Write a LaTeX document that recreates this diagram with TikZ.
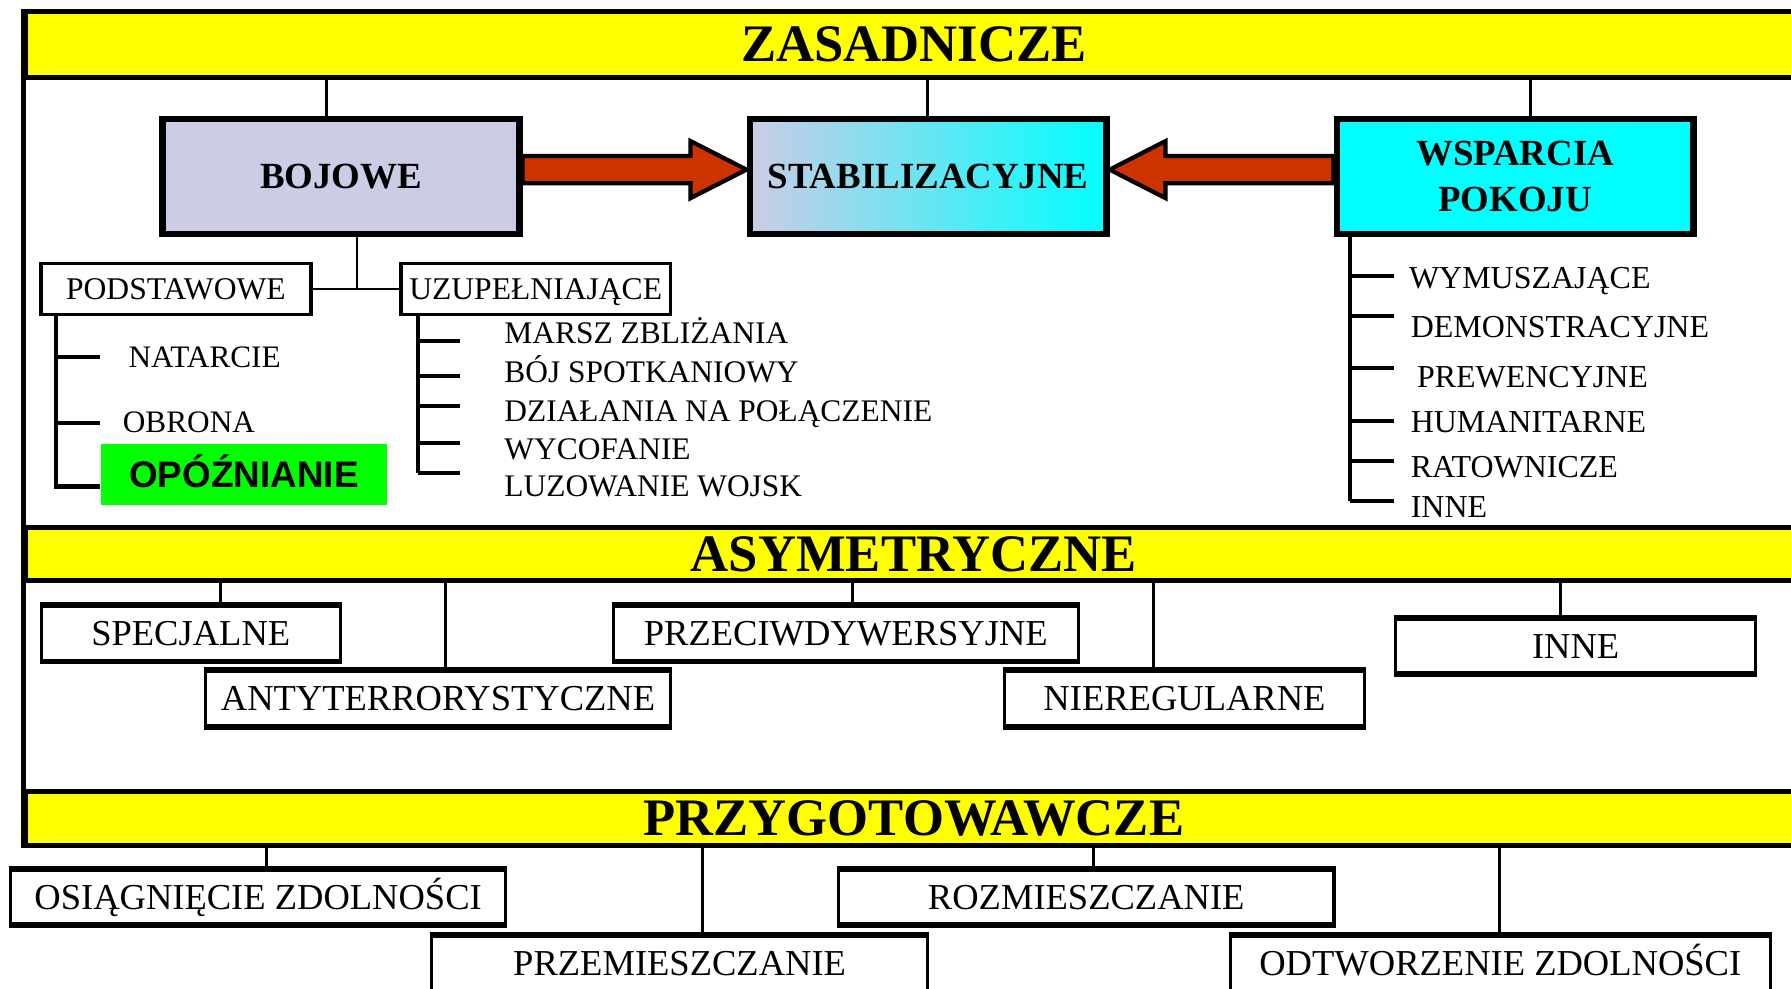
\documentclass[tikz,border=0pt]{standalone}
\usepackage{fontspec}
\setmainfont{Liberation Serif}
\newfontfamily\arialfont{Liberation Sans}
\usetikzlibrary{calc}
\definecolor{baryellow}{RGB}{255,255,0}
\definecolor{lavender}{RGB}{204,204,230}
\definecolor{aqua}{RGB}{0,255,255}
\definecolor{arrowred}{RGB}{204,51,0}
\definecolor{brightgreen}{RGB}{0,255,0}
\tikzset{
  bar/.style={draw=black,fill=baryellow,line width=1.5pt,minimum width=17.77cm,inner sep=0pt,text depth=0pt,font=\fontsize{15}{17}\selectfont\bfseries},
  mainbox/.style={draw=black,line width=1.8pt,minimum width=3.57cm,minimum height=1.15cm,inner sep=2pt,align=center,font=\fontsize{10.5}{13}\selectfont\bfseries},
  subbox/.style={draw=black,fill=white,line width=1pt,minimum width=2.70cm,minimum height=0.51cm,inner sep=0pt,text height=6pt,text depth=0pt,font=\fontsize{9}{11}\selectfont},
  lowbox/.style={draw=black,fill=white,line width=0.9pt,minimum height=0.537cm,inner sep=0pt,text height=7pt,text depth=0pt,font=\fontsize{10.4}{12}\selectfont},
  opoz/.style={fill=brightgreen,minimum width=2.867cm,minimum height=0.605cm,inner sep=0pt,text height=7.6pt,text depth=0pt,font=\arialfont\bfseries\fontsize{10.5}{12}\selectfont},
  item/.style={anchor=west,inner sep=0pt,text height=5.9pt,text depth=0pt,font=\fontsize{8.95}{10}\selectfont},
  witem/.style={item,text height=6pt,font=\fontsize{9.1}{11}\selectfont},
  tree/.style={line width=1.2pt},
  link/.style={line width=0.8pt},
  bigarrow/.style={draw=black,fill=arrowred,line width=1.2pt,line join=miter}
}
\begin{document}
\begin{tikzpicture}[x=0.011422cm,y=-0.011422cm]
  \useasboundingbox (0,0) rectangle (1568,865);
  \clip (0,0) rectangle (1568,865);
  % title bars
  \node[bar,minimum height=0.662cm] (zas) at (800,39) {ZASADNICZE};
  \node[bar,minimum height=0.525cm] (asym) at (800,485) {ASYMETRYCZNE};
  \node[bar,minimum height=0.537cm] (przyg) at (800,716.5) {PRZYGOTOWAWCZE};
  \draw[line width=1.5pt] (zas.north west) -- (przyg.south west);
  % main kinds
  \node[mainbox,fill=lavender] (boj) at (298.5,154.5) {BOJOWE};
  \node[mainbox,left color=lavender,right color=aqua] (stab) at (812.5,154.5) {STABILIZACYJNE};
  \node[mainbox,fill=aqua] (wsp) at (1326.5,154.5) {WSPARCIA\\POKOJU};
  \foreach \n/\x in {boj/286,stab/812,wsp/1340}{\draw[link] (\x,0 |- zas.south) -- (\x,0 |- \n.north);}
  \draw[bigarrow] ($(boj.east)+(0,-18)$) -- ($(stab.west)+(-49,-18)$) -- ($(stab.west)+(-49,-31)$) -- ($(stab.west)+(0,-6)$)
    -- ($(stab.west)+(-49,19)$) -- ($(stab.west)+(-49,6)$) -- ($(boj.east)+(0,6)$) -- cycle;
  \draw[bigarrow] ($(wsp.west)+(0,-18)$) -- ($(stab.east)+(49,-18)$) -- ($(stab.east)+(49,-31)$) -- ($(stab.east)+(0,-6)$)
    -- ($(stab.east)+(49,19)$) -- ($(stab.east)+(49,6)$) -- ($(wsp.west)+(0,6)$) -- cycle;
  % bojowe
  \node[subbox] (pod) at (154,253) {PODSTAWOWE};
  \node[subbox] (uzu) at (469,253) {UZUPEŁNIAJĄCE};
  \draw[link] (pod.east) -- (uzu.west);
  \draw[link] (312.6,0 |- boj.south) -- (312.6,0 |- pod.east);
  \node[item,font=\fontsize{8.9}{10}\selectfont] (nat) at (112,312.7) {NATARCIE};
  \node[item,font=\fontsize{8.9}{10}\selectfont] (obr) at (107,370) {OBRONA};
  \node[opoz] (opo) at (213.5,415.5) {OPÓŹNIANIE};
  \draw[tree] (49,0 |- pod.south) -- (49,426) -- (opo.west |- 0,426);
  \foreach \n in {nat,obr}{\draw[tree] (\n.west -| 49,0) -- (\n.west -| 87.6,0);}
  \foreach \txt/\y/\ty [count=\i] in {MARSZ ZBLIŻANIA/292/298.5, BÓJ SPOTKANIOWY/325.6/329, DZIAŁANIA NA POŁĄCZENIE/360/355.5, WYCOFANIE/393/388, LUZOWANIE WOJSK/426/414}{
    \node[item] (u\i) at (441,\y) {\txt};
    \draw[tree] (366,\ty) -- (403,\ty);}
  \draw[tree] (366,0 |- uzu.south) -- (366,414);
  % wsparcia pokoju
  \foreach \txt/\x/\y/\ty [count=\i] in {WYMUSZAJĄCE/1233/243.6/241.6, DEMONSTRACYJNE/1234.5/286/276.4, PREWENCYJNE/1240/329.8/322, HUMANITARNE/1234.5/369.5/368.6, RATOWNICZE/1234.5/408.6/403.3, INNE/1234.5/443.6/438.6}{
    \node[witem] (w\i) at (\x,\y) {\txt};
    \draw[tree] (1182,\ty) -- (1220.5,\ty);}
  \draw[tree] (1182,0 |- wsp.south) -- (1182,438.6);
  % asymetryczne
  \node[lowbox,minimum width=2.99cm] (spec) at (167,554.5) {SPECJALNE};
  \node[lowbox,minimum width=4.65cm] (anty) at (383.5,611.5) {ANTYTERRORYSTYCZNE};
  \node[lowbox,minimum width=4.65cm] (przec) at (740.5,554.5) {PRZECIWDYWERSYJNE};
  \node[lowbox,minimum width=3.61cm] (niereg) at (1037,611.5) {NIEREGULARNE};
  \node[lowbox,minimum width=3.60cm] (inne) at (1379.5,565.5) {INNE};
  \foreach \n/\x in {spec/193,anty/390,przec/746,niereg/1010,inne/1366}{\draw[link] (\x,0 |- asym.south) -- (\x,0 |- \n.north);}
  % przygotowawcze
  \node[lowbox,minimum width=4.957cm] (osiag) at (226,785.5) {OSIĄGNIĘCIE ZDOLNOŚCI};
  \node[lowbox,minimum width=4.957cm] (przem) at (595,843.5) {PRZEMIESZCZANIE};
  \node[lowbox,minimum width=4.957cm] (rozm) at (951,785.5) {ROZMIESZCZANIE};
  \node[lowbox,minimum width=5.40cm] (odtw) at (1313.5,843.5) {ODTWORZENIE ZDOLNOŚCI};
  \foreach \n/\x in {osiag/233,przem/615,rozm/957,odtw/1313}{\draw[link] (\x,0 |- przyg.south) -- (\x,0 |- \n.north);}
  \foreach \n in {spec,anty,przec,niereg,inne,osiag,przem,rozm,odtw}{
    \draw[line width=1.5pt] (\n.north west) -- (\n.north east) (\n.south west) -- (\n.south east);}
\end{tikzpicture}
\end{document}
